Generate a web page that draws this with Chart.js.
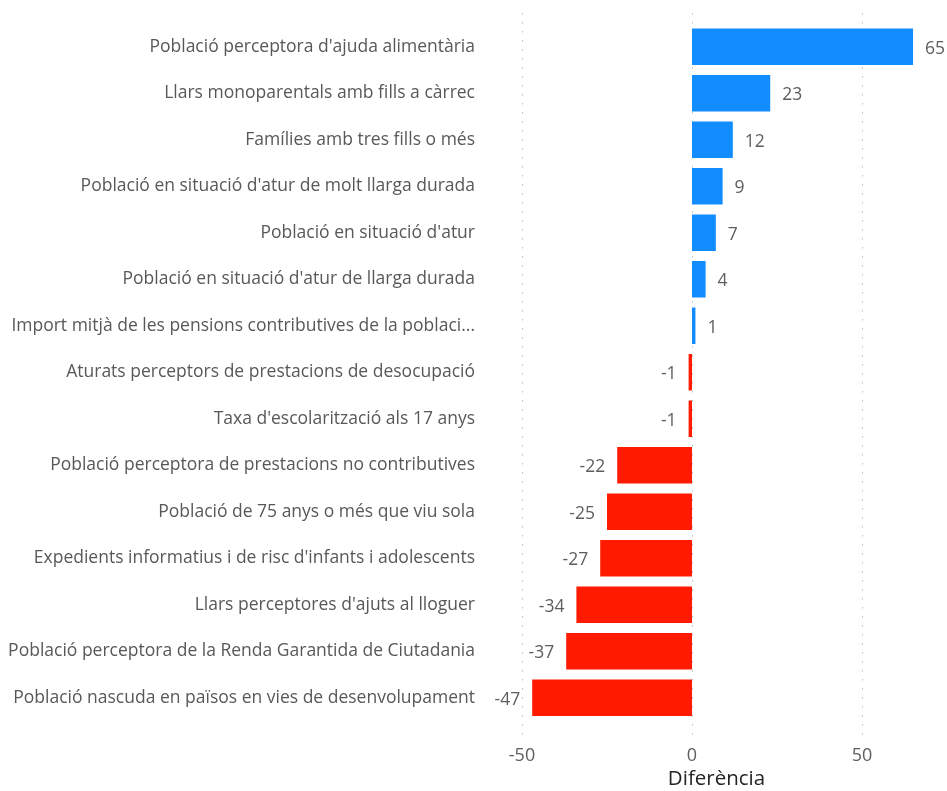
<!DOCTYPE html>
<html>
<head>
<meta charset="utf-8">
<script src="https://cdn.jsdelivr.net/npm/chart.js@4.4.0/dist/chart.umd.min.js"></script>
<style>
html,body{margin:0;padding:0;background:#fff;}
#wrap{width:947px;height:791px;position:relative;}
</style>
</head>
<body>
<div id="wrap"><canvas id="c" width="947" height="791"></canvas></div>
<script>
const categories = [
  "Població perceptora d'ajuda alimentària",
  "Llars monoparentals amb fills a càrrec",
  "Famílies amb tres fills o més",
  "Població en situació d'atur de molt llarga durada",
  "Població en situació d'atur",
  "Població en situació d'atur de llarga durada",
  "Import mitjà de les pensions contributives de la poblaci...",
  "Aturats perceptors de prestacions de desocupació",
  "Taxa d'escolarització als 17 anys",
  "Població perceptora de prestacions no contributives",
  "Població de 75 anys o més que viu sola",
  "Expedients informatius i de risc d'infants i adolescents",
  "Llars perceptores d'ajuts al lloguer",
  "Població perceptora de la Renda Garantida de Ciutadania",
  "Població nascuda en països en vies de desenvolupament"
];
const differences = [65, 23, 12, 9, 7, 4, 1, -1, -1, -22, -25, -27, -34, -37, -47];
const xTickValues = [-50, 0, 50];
const axisTitle = "Diferència";

const FONT = "'Open Sans', 'Noto Sans', sans-serif";
const POS = '#118DFF', NEG = '#FF1A00';

const dottedGrid = {
  id: 'dottedGrid',
  beforeDatasetsDraw(chart) {
    const ctx = chart.ctx, xs = chart.scales.x;
    ctx.save();
    ctx.strokeStyle = '#bdbdbd';
    ctx.lineWidth = 1;
    ctx.setLineDash([1.5, 7.5]);
    xTickValues.forEach(v => {
      const x = Math.round(xs.getPixelForValue(v)) + 0.5;
      ctx.beginPath();
      ctx.moveTo(x, 13);
      ctx.lineTo(x, 738);
      ctx.stroke();
    });
    ctx.restore();
  }
};

const valueLabels = {
  id: 'valueLabels',
  afterDatasetsDraw(chart) {
    const ctx = chart.ctx;
    const meta = chart.getDatasetMeta(0);
    ctx.save();
    ctx.font = '17.5px ' + FONT;
    ctx.fillStyle = '#605E5C';
    ctx.textBaseline = 'middle';
    meta.data.forEach((bar, i) => {
      const v = differences[i];
      if (v >= 0) { ctx.textAlign = 'left'; ctx.fillText(String(v), bar.x + 12, bar.y + 2); }
      else { ctx.textAlign = 'right'; ctx.fillText(String(v), bar.x - 12, bar.y + 2); }
    });
    ctx.restore();
  }
};

new Chart(document.getElementById('c'), {
  type: 'bar',
  data: {
    labels: categories,
    datasets: [{
      data: differences,
      backgroundColor: differences.map(v => v >= 0 ? POS : NEG),
      borderWidth: 0,
      categoryPercentage: 1,
      barPercentage: 0.78
    }]
  },
  options: {
    indexAxis: 'y',
    responsive: false,
    animation: false,
    layout: { padding: { top: 22, right: 2, bottom: 0, left: 0 } },
    plugins: { legend: { display: false }, tooltip: { enabled: false } },
    scales: {
      x: {
        min: -60, max: 74.4,
        afterBuildTicks(scale) { scale.ticks = xTickValues.map(v => ({ value: v })); },
        afterFit(scale) { scale.height = 70; },
        border: { display: false },
        grid: { display: false, drawTicks: false },
        ticks: { font: { family: FONT, size: 18 }, color: '#605E5C', padding: 24 },
        title: { display: true, text: axisTitle, font: { family: FONT, size: 20.5 }, color: '#252423', padding: 0 }
      },
      y: {
        afterFit(scale) { scale.width = 488; },
        border: { display: false },
        grid: { display: false, drawTicks: false },
        ticks: { font: { family: FONT, size: 17.5 }, color: '#5a5856', padding: 13, autoSkip: false }
      }
    }
  },
  plugins: [dottedGrid, valueLabels]
});
</script>
</body>
</html>
